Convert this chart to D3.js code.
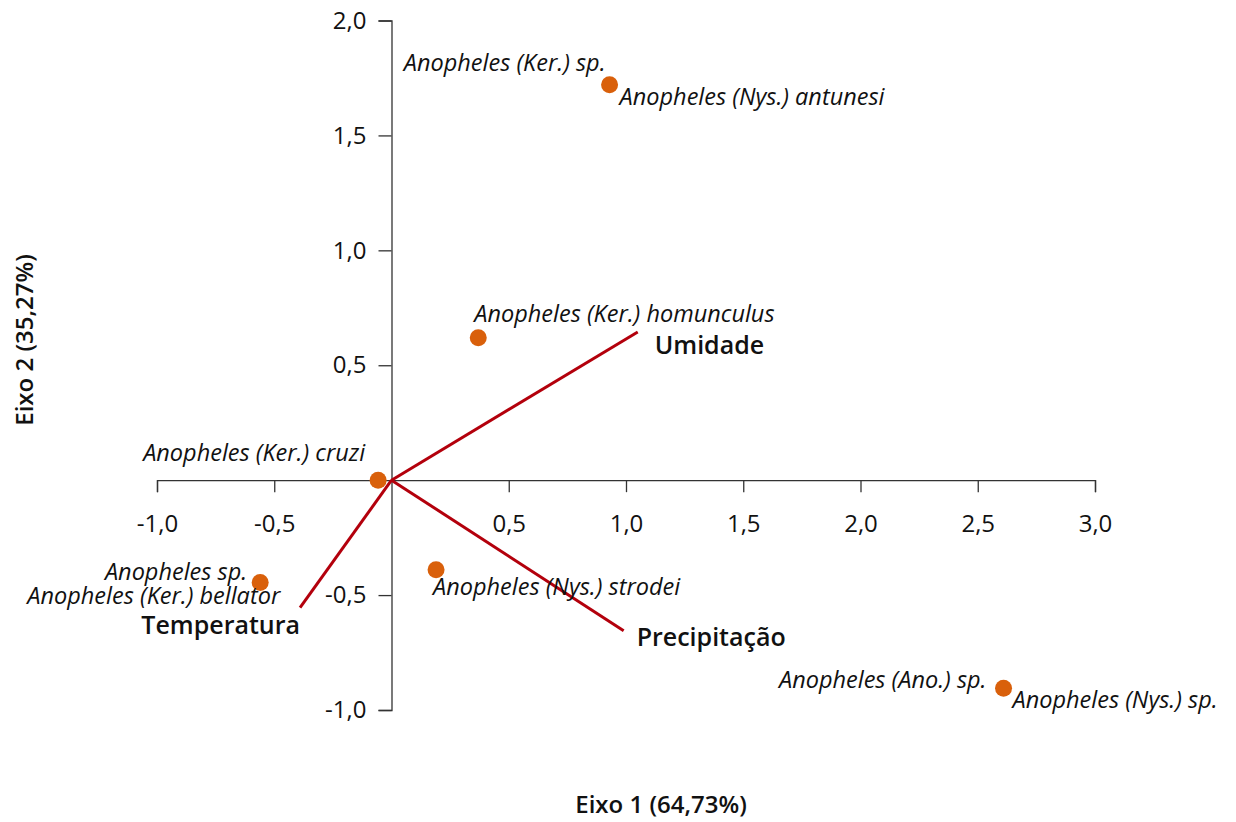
<!DOCTYPE html>
<html>
<head>
<meta charset="utf-8">
<script src="https://cdn.jsdelivr.net/npm/d3@7"></script>
<style>
  body { margin: 0; background: #fff; }
  svg text { font-family: "Open Sans", "Noto Sans", sans-serif; }
</style>
</head>
<body>
<script>
// species scores (axis 1, axis 2)
let speciesX = [0.93, 0.37, -0.057, -0.56, 0.19, 2.61];
let speciesY = [1.72, 0.62, 0.0, -0.445, -0.39, -0.905];
// each point carries one or two names
let speciesNames = [
    ["Anopheles (Ker.) sp.", "Anopheles (Nys.) antunesi"],
    ["Anopheles (Ker.) homunculus"],
    ["Anopheles (Ker.) cruzi"],
    ["Anopheles sp.", "Anopheles (Ker.) bellator"],
    ["Anopheles (Nys.) strodei"],
    ["Anopheles (Ano.) sp.", "Anopheles (Nys.) sp."]
];

// environmental vectors
let varNames = ["Umidade", "Precipitação", "Temperatura"];
let varX = [1.05, 0.99, -0.39];
let varY = [0.645, -0.655, -0.555];

let xTicks = [-1.0, -0.5, 0.5, 1.0, 1.5, 2.0, 2.5, 3.0];
let yTicks = [-1.0, -0.5, 0.5, 1.0, 1.5, 2.0];

// label placement (dx, dy, anchor) per name, relative to point
let nameLayout = [
    [[-4, -14, "end"], [10, 20, "start"]],
    [[-4, -16, "start"]],
    [[-13, -19, "end"]],
    [[-13, -2, "end"], [20, 22, "end"]],
    [[-3, 25, "start"]],
    [[-17, 0, "end"], [9, 20, "start"]]
];
let varLayout = [[17, 22, "start"], [13, 15, "start"], [0, 26, "end"]];

let width = 1236, height = 822;

let x = d3.scaleLinear().domain([-1, 3]).range([157, 1095]);
let y = d3.scaleLinear().domain([-1, 2]).range([710, 20.5]);

let fmt = d3.formatLocale({decimal: ",", thousands: ".", grouping: [3], currency: ["", ""], minus: "-"}).format(".1f");

let svg = d3.select("body").append("svg")
    .attr("width", width)
    .attr("height", height);

let xAxis = svg.append("g")
    .attr("transform", `translate(0,${y(0)})`)
    .call(d3.axisBottom(x).tickValues(xTicks).tickFormat(fmt).tickSize(12).tickPadding(23));

let yAxis = svg.append("g")
    .attr("transform", `translate(${x(0)},0)`)
    .call(d3.axisLeft(y).tickValues(yTicks).tickFormat(fmt).tickSize(13).tickPadding(12));

[xAxis, yAxis].forEach((g) => {
    g.selectAll("path, line").attr("stroke", "#333").attr("stroke-width", 1.3);
    g.selectAll("text").attr("font-size", 24).attr("fill", "#111")
        .style("font-family", "'Open Sans', sans-serif");
});

// vectors
svg.append("g").selectAll("line")
    .data(varNames)
    .join("line")
    .attr("x1", x(0))
    .attr("y1", y(0))
    .attr("x2", (d, i) => x(varX[i]))
    .attr("y2", (d, i) => y(varY[i]))
    .attr("stroke", "#b3000c")
    .attr("stroke-width", 3);

svg.append("g").selectAll("text")
    .data(varNames)
    .join("text")
    .attr("x", (d, i) => x(varX[i]) + varLayout[i][0])
    .attr("y", (d, i) => y(varY[i]) + varLayout[i][1])
    .attr("text-anchor", (d, i) => varLayout[i][2])
    .attr("font-size", 25)
    .attr("font-weight", 600)
    .attr("fill", "#111")
    .text((d) => d);

// species points
svg.append("g").selectAll("circle")
    .data(speciesX)
    .join("circle")
    .attr("cx", (d) => x(d))
    .attr("cy", (d, i) => y(speciesY[i]))
    .attr("r", 8.5)
    .attr("fill", "#d9600b");

let labels = [];
speciesNames.forEach((names, i) => {
    names.forEach((n, j) => {
        labels.push({name: n, px: x(speciesX[i]), py: y(speciesY[i]), lay: nameLayout[i][j]});
    });
});

svg.append("g").selectAll("text")
    .data(labels)
    .join("text")
    .attr("x", (d) => d.px + d.lay[0])
    .attr("y", (d) => d.py + d.lay[1])
    .attr("text-anchor", (d) => d.lay[2])
    .attr("font-size", 23.5)
    .attr("font-style", "italic")
    .attr("fill", "#111")
    .text((d) => d.name);

// axis titles
svg.append("text")
    .attr("x", 661)
    .attr("y", 813)
    .attr("text-anchor", "middle")
    .attr("font-size", 24)
    .attr("font-weight", 600)
    .attr("fill", "#111")
    .text("Eixo 1 (64,73%)");

svg.append("text")
    .attr("transform", "translate(33,340) rotate(-90)")
    .attr("text-anchor", "middle")
    .attr("font-size", 24)
    .attr("font-weight", 600)
    .attr("fill", "#111")
    .text("Eixo 2 (35,27%)");
</script>
</body>
</html>
